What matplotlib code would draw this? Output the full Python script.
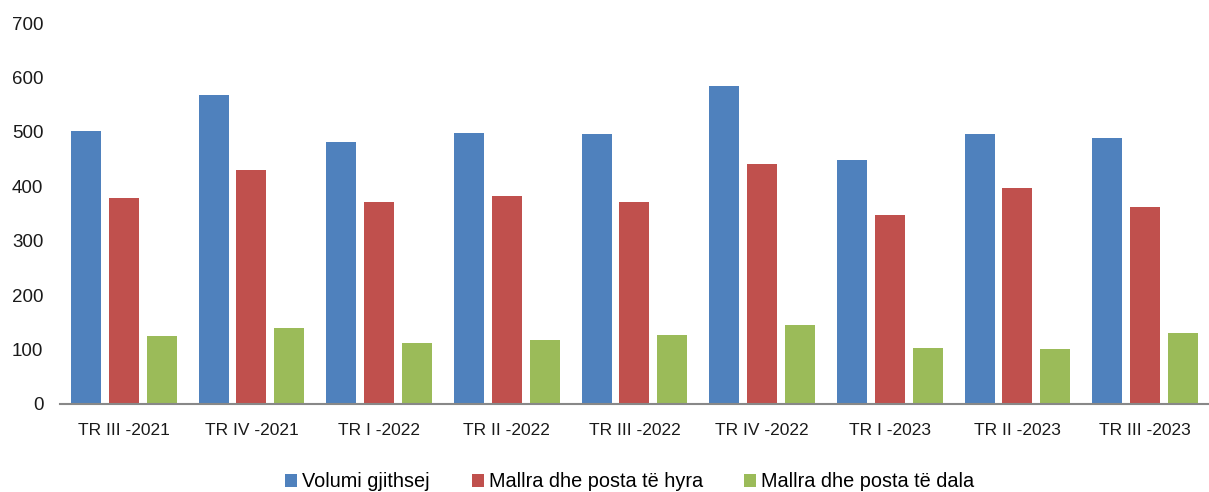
import matplotlib.pyplot as plt
import numpy as np

plt.rcParams['font.family'] = ['Liberation Sans', 'DejaVu Sans']

categories = ['TR III -2021', 'TR IV -2021', 'TR I -2022', 'TR II -2022', 'TR III -2022',
              'TR IV -2022', 'TR I -2023', 'TR II -2023', 'TR III -2023']
volumi = [502, 568, 482, 498, 496, 585, 449, 496, 489]
hyra = [379, 430, 371, 382, 371, 441, 347, 397, 362]
dala = [125, 140, 112, 118, 127, 145, 103, 101, 130]
labels = ['Volumi gjithsej', 'Mallra dhe posta të hyra', 'Mallra dhe posta të dala']
colors = ['#4F81BD', '#C0504D', '#9BBB59']

fig = plt.figure(figsize=(12.09, 4.92), dpi=100)
ax = fig.add_axes([0.0496, 0.179, 0.9504, 0.774])

x = np.arange(len(categories))
w = 0.235
step = 0.297
for i, (vals, lab, col) in enumerate(zip([volumi, hyra, dala], labels, colors)):
    ax.bar(x + (i - 1) * step, vals, w, color=col, label=lab, edgecolor='none')

ax.set_xlim(-0.5, len(categories) - 0.5)
ax.set_ylim(0, 700)
ax.set_yticks(range(0, 701, 100))
ax.set_xticks(x)
ax.set_xticklabels(categories)
ax.tick_params(axis='both', length=0, colors='#1a1a1a')
ax.tick_params(axis='x', labelsize=12.5, pad=14)
ax.tick_params(axis='y', labelsize=13.5, pad=12)
for s in ['top', 'right', 'left']:
    ax.spines[s].set_visible(False)
ax.spines['bottom'].set_color('#888888')
ax.spines['bottom'].set_linewidth(1.5)

fig.legend(loc='lower center', bbox_to_anchor=(0.521, -0.035), ncol=3, frameon=False,
           fontsize=14.3, handlelength=0.6, handleheight=0.6, handletextpad=0.25,
           columnspacing=2.1)

fig.savefig('out.png', dpi=100)
